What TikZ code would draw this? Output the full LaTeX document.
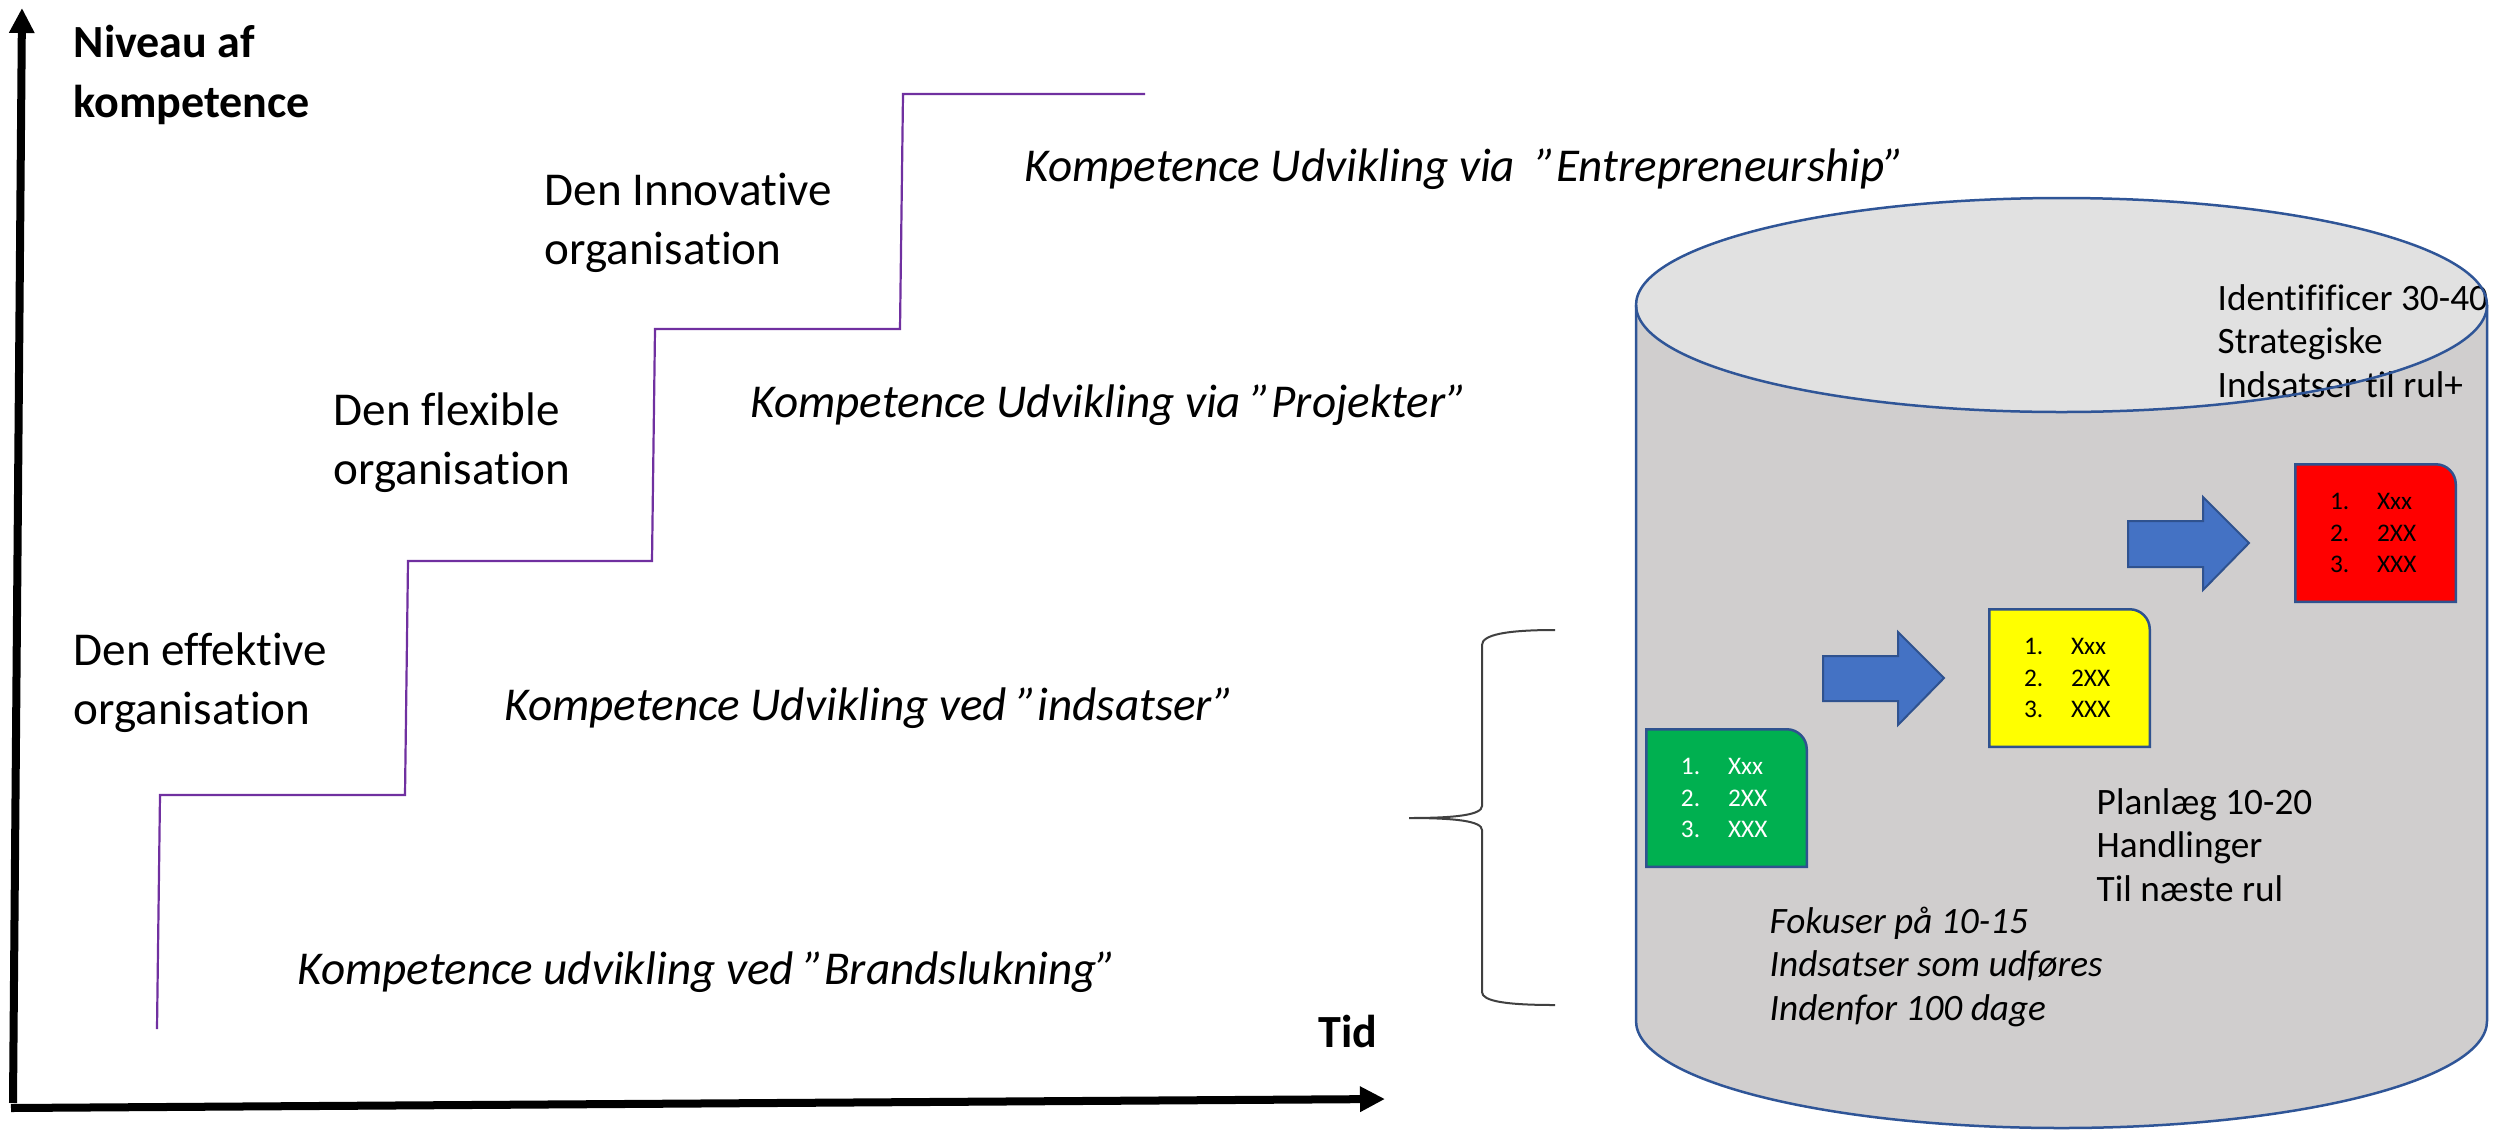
\documentclass[tikz,border=0pt]{standalone}
\usepackage{fontspec}
\setmainfont{Carlito}[Ligatures={NoCommon}]
\usetikzlibrary{arrows.meta}

\definecolor{stairpurple}{HTML}{7030A0}
\definecolor{cylbody}{HTML}{D0CECE}
\definecolor{cyltop}{HTML}{E1E1E1}
\definecolor{cylline}{HTML}{2F5597}
\definecolor{blockfill}{HTML}{4472C4}
\definecolor{blockline}{HTML}{2F528F}
\definecolor{cardgreen}{HTML}{00B050}
\definecolor{cardyellow}{HTML}{FFFF00}
\definecolor{cardred}{HTML}{FF0000}
\definecolor{bracegray}{HTML}{404040}

% font sizes (1 unit = 0.01cm)
\newcommand\fsmain{\fontsize{13.4pt}{16.6pt}\selectfont}
\newcommand\fsaxis{\bfseries\fontsize{13.1pt}{16.8pt}\selectfont}
\newcommand\fscyl{\fontsize{10.6pt}{12.35pt}\selectfont}
\newcommand\fscard{\fontsize{7.2pt}{9.1pt}\selectfont}

% multi-line labels are placed by the baseline of their last line
\tikzset{
  axisline/.style={line width=0.08cm, -{Triangle[length=0.25cm,width=0.24cm]}},
  stairline/.style={draw=stairpurple, line width=0.022cm},
  lbl/.style={inner sep=0pt, anchor=base west, align=left},
  mainlbl/.style={lbl, font=\fsmain},
  axislbl/.style={lbl, font=\fsaxis},
  cyllbl/.style={lbl, font=\fscyl},
  cardbox/.style={inner sep=0pt, minimum width=1.59cm, minimum height=1.36cm, draw=none},
  cardline/.style={draw=blockline, line width=0.025cm},
  cardtxt/.style={inner sep=0pt, anchor=base west, font=\fscard},
  blockarrow/.style={fill=blockfill, draw=blockline, line width=0.02cm, line join=miter},
  bracestroke/.style={draw=bracegray, line width=0.02cm},
}

% a numbered list card with a rounded top-right corner
\newcommand\listcard[5]{%
  \node[cardbox] (#1) at (#2+79.5,#3+68) {};
  \filldraw[cardline, fill=#4] (#1.south west) -- (#1.north west)
    -- ([xshift=-0.2cm]#1.north east)
    .. controls ([xshift=-0.09cm]#1.north east) and ([yshift=-0.09cm]#1.north east)
    .. ([yshift=-0.2cm]#1.north east) -- (#1.south east) -- cycle;
  \node[cardtxt, text=#5] (#1-n1) at ([xshift=0.34cm, yshift=-0.45cm]#1.north west) {1.};
  \node[cardtxt, text=#5] (#1-n2) at ([xshift=0.34cm, yshift=-0.77cm]#1.north west) {2.};
  \node[cardtxt, text=#5] (#1-n3) at ([xshift=0.34cm, yshift=-1.08cm]#1.north west) {3.};
  \node[cardtxt, text=#5] (#1-i1) at ([xshift=0.81cm, yshift=-0.45cm]#1.north west) {Xxx};
  \node[cardtxt, text=#5] (#1-i2) at ([xshift=0.81cm, yshift=-0.77cm]#1.north west) {2XX};
  \node[cardtxt, text=#5] (#1-i3) at ([xshift=0.81cm, yshift=-1.08cm]#1.north west) {XXX};
}

\begin{document}
\begin{tikzpicture}[x=0.01cm, y=-0.01cm]
\useasboundingbox (0,0) rectangle (2494,1130);

% axes
\coordinate (yfoot) at (13,1103);
\coordinate (ytip) at (22,8);
\coordinate (xfoot) at (11,1108);
\coordinate (xtip) at (1385,1099);
\draw[axisline] (yfoot) -- (ytip);
\draw[axisline] (xfoot) -- (xtip);

\node[axislbl] (ylabel) at (73,117) {Niveau af\\kompetence};
\node[axislbl] (xlabel) at (1318,1047) {Tid};

% staircase
\draw[stairline] (157,1029) -- (160,795) -- (405,795) -- (408,561) -- (652,561)
  -- (655,329) -- (900,329) -- (903,94) -- (1145,94);

% organisation levels
\node[mainlbl] (lvl1) at (73,724) {Den effektive\\organisation};
\node[mainlbl] (lvl2) at (333,484) {Den flexible\\organisation};
\node[mainlbl] (lvl3) at (544,264) {Den Innovative\\organisation};

% ways of competence development
\node[mainlbl, font=\fsmain\itshape] (dev1) at (297,984) {Kompetence udvikling ved ”Brandslukning”};
\node[mainlbl, font=\fsmain\itshape] (dev2) at (504,720) {Kompetence Udvikling ved ”indsatser”};
\node[mainlbl, font=\fsmain\itshape] (dev3) at (750,417) {Kompetence Udvikling via ”Projekter”};
\node[mainlbl, font=\fsmain\itshape] (dev4) at (1024,181) {Kompetence Udvikling via\ \ ”Entrepreneurship”};

% brace
\draw[bracestroke] (1555,630) .. controls (1505,630) and (1482,635) .. (1482,645)
  -- (1482,806) .. controls (1482,815) and (1455,818) .. (1409,818)
  .. controls (1455,818) and (1482,821) .. (1482,830)
  -- (1482,992) .. controls (1482,1001) and (1505,1005) .. (1555,1005);

% cylinder
\fill[cylbody] (1636,305) -- (1636,1021)
  arc[start angle=180, end angle=0, x radius=425.5, y radius=107] -- (2487,305) -- cycle;
\fill[cyltop] (2061.5,305) ellipse[x radius=425.5, y radius=107];

\node[cyllbl] (ident) at (2217,397) {Identifificer 30-40\\Strategiske\\Indsatser til rul+};

\draw[cylline, line width=0.025cm] (1636,305) -- (1636,1021)
  arc[start angle=180, end angle=0, x radius=425.5, y radius=107] -- (2487,305);
\draw[cylline, line width=0.025cm] (2061.5,305) ellipse[x radius=425.5, y radius=107];

\node[cyllbl] (plan) at (2096,901) {Planlæg 10-20\\Handlinger\\Til næste rul};
\node[cyllbl, font=\fscyl\itshape] (focus) at (1769,1020) {Fokuser på 10-15\\Indsatser som udføres\\Indenfor 100 dage};

% block arrows
\filldraw[blockarrow] (1823,656) -- (1898,656) -- (1898,632) -- (1944,678)
  -- (1898,725) -- (1898,701) -- (1823,701) -- cycle;
\filldraw[blockarrow] (2128,521) -- (2203,521) -- (2203,497) -- (2249,543)
  -- (2203,590) -- (2203,567) -- (2128,567) -- cycle;

% list cards
\listcard{cardA}{1647}{730}{cardgreen}{white}
\listcard{cardB}{1990}{610}{cardyellow}{black}
\listcard{cardC}{2296}{465}{cardred}{black}

\end{tikzpicture}
\end{document}
